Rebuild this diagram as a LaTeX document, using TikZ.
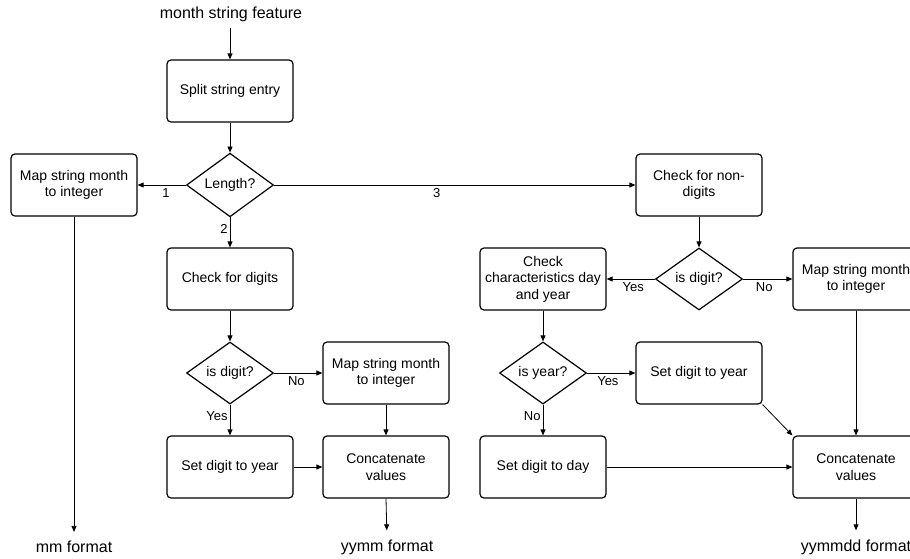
\documentclass[tikz,border=0pt]{standalone}
\usepackage{fontspec}
\setmainfont{Liberation Sans}
\usetikzlibrary{shapes.geometric,arrows.meta}
\begin{document}
\begin{tikzpicture}[x=1pt,y=-1pt,
  proc/.style={draw, line width=1.2pt, rounded corners=4pt, minimum width=126pt, minimum height=62pt, align=center, inner sep=2pt, font=\fontsize{14}{16.5}\selectfont},
  dec/.style={draw, line width=1.2pt, diamond, minimum width=87pt, minimum height=62pt, inner sep=0pt, font=\fontsize{14}{16.5}\selectfont},
  io/.style={font=\fontsize{16}{19}\selectfont, inner sep=0pt},
  conn/.style={draw, line width=0.8pt, -{Triangle[length=6pt,width=5pt]}},
  lbl/.style={font=\fontsize{13}{15}\selectfont, inner sep=1pt}
]
\useasboundingbox (0,0) rectangle (910,558);
\clip (0,0) rectangle (910,558);

\node[io] (in) at (231,14) {month string feature};
\coordinate (inb) at (230,28);
\node[proc] (split) at (230,91) {Split string entry};
\node[dec] (len) at (230,185) {Length?};
\node[proc] (mapL) at (74,185) {Map string month\\to integer};
\node[proc] (chk) at (230,279) {Check for digits};
\node[dec] (dig1) at (230,373) {is digit?};
\node[proc] (mapM) at (386,373) {Map string month\\to integer};
\node[proc] (setY) at (230,467) {Set digit to year};
\node[proc] (concM) at (386,467) {Concatenate\\values};
\node[io] (mm) at (74,547) {mm format};
\node[io] (yymm) at (387,547) {yymm format};

\node[proc] (nond) at (699,185) {Check for non-\\digits};
\node[dec] (dig2) at (699,279) {is digit?};
\node[proc] (chkC) at (543,279) {Check\\characteristics day\\and year};
\node[proc] (mapR) at (856,279) {Map string month\\to integer};
\node[dec] (year) at (543,373) {is year?};
\node[proc] (setY2) at (699,373) {Set digit to year};
\node[proc] (day) at (543,467) {Set digit to day};
\node[proc] (concR) at (856,467) {Concatenate\\values};
\node[io] (yymmdd) at (856,547) {yymmdd format};

\draw[conn] (inb) -- (split.north);
\draw[conn] (split.south) -- (len.north);
\draw[conn] (len.west) -- node[lbl, pos=0.41, below=2pt] {1} (mapL.east);
\draw[conn] (len.south) -- node[lbl, pos=0.4, left=1pt] {2} (chk.north);
\draw[conn] (len.east) -- node[lbl, pos=0.45, below=2pt] {3} (nond.west);
\draw[conn, shorten >=9pt] (mapL.south) -- (mm.north);
\draw[conn] (chk.south) -- (dig1.north);
\draw[conn] (dig1.east) -- node[lbl, pos=0.46, below=2pt] {No} (mapM.west);
\draw[conn] (dig1.south) -- node[lbl, pos=0.38, left=1pt] {Yes} (setY.north);
\draw[conn] (mapM.south) -- (concM.north);
\draw[conn] (setY.east) -- (concM.west);
\draw[conn, shorten >=9pt] (concM.south) -- (yymm.north);

\draw[conn] (nond.south) -- (dig2.north);
\draw[conn] (dig2.west) -- node[lbl, pos=0.45, below=2pt] {Yes} (chkC.east);
\draw[conn] (dig2.east) -- node[lbl, pos=0.43, below=2pt] {No} (mapR.west);
\draw[conn] (chkC.south) -- (year.north);
\draw[conn] (year.east) -- node[lbl, pos=0.43, below=2pt] {Yes} (setY2.west);
\draw[conn] (year.south) -- node[lbl, pos=0.38, left=1pt] {No} (day.north);
\draw[conn] (setY2.south east) -- (concR.north west);
\draw[conn] (day.east) -- (concR.west);
\draw[conn] (mapR.south) -- (concR.north);
\draw[conn, shorten >=9pt] (concR.south) -- (yymmdd.north);
\end{tikzpicture}
\end{document}
